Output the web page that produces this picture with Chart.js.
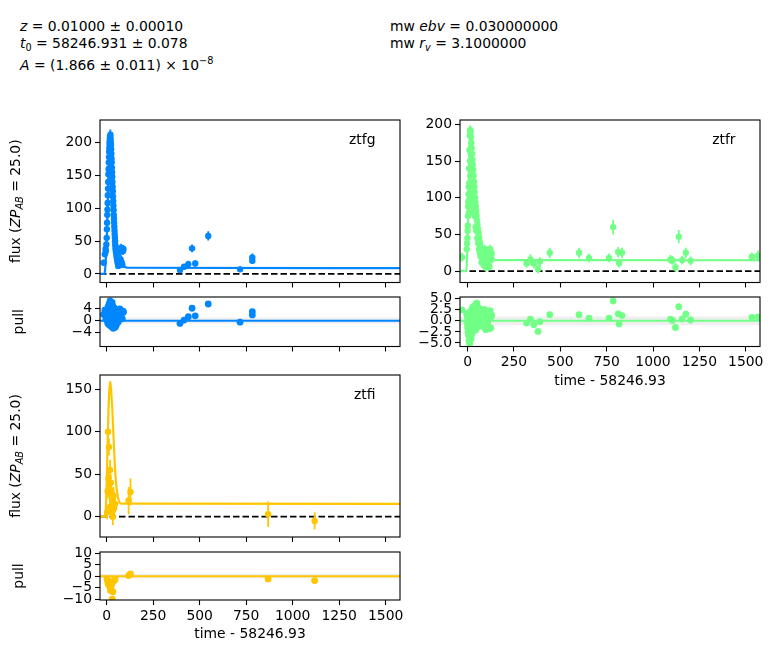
<!DOCTYPE html>
<html><head><meta charset="utf-8">
<script src="https://cdn.jsdelivr.net/npm/chart.js@4.4.1/dist/chart.umd.min.js"></script>
<style>
html,body{margin:0;padding:0;background:#fff;}
#wrap{position:relative;width:780px;height:670px;overflow:hidden;font-family:"DejaVu Sans";font-size:13.9px;color:#000;}
canvas{position:absolute;left:0;top:0;}
.hdr{position:absolute;white-space:nowrap;line-height:16px;}
.hdr sub{font-size:70%;vertical-align:-0.3em;line-height:0;}
.hdr sup{font-size:70%;vertical-align:0.6em;line-height:0;}
</style></head><body>
<div id="wrap">
<div class="hdr" style="left:20px;top:18px"><i>z</i> = 0.01000 ± 0.00010</div>
<div class="hdr" style="left:20px;top:35px"><i>t</i><sub>0</sub> = 58246.931 ± 0.078</div>
<div class="hdr" style="left:20px;top:57px"><i>A</i> = (1.866 ± 0.011) × 10<sup>−8</sup></div>
<div class="hdr" style="left:390px;top:18px">mw <i>ebv</i> = 0.030000000</div>
<div class="hdr" style="left:390px;top:35px">mw <i>r<sub>v</sub></i> = 3.1000000</div>
<canvas id="cGF" width="780" height="670"></canvas>
<canvas id="cGP" width="780" height="670"></canvas>
<canvas id="cRF" width="780" height="670"></canvas>
<canvas id="cRP" width="780" height="670"></canvas>
<canvas id="cIF" width="780" height="670"></canvas>
<canvas id="cIP" width="780" height="670"></canvas>
</div>
<script>
// ---------------- DATA ----------------
const xTicks = [0, 250, 500, 750, 1000, 1250, 1500];
const fluxTicksGR = [0, 50, 100, 150, 200];
const fluxTicksI = [0, 50, 100, 150];
const pullTicksG = [-4, 0, 4];
const pullTicksR = [-5, -2.5, 0, 2.5, 5];
const pullTicksI = [-10, -5, 0, 5, 10];
const pullBand = [-1, 1];

// ztfg
const gTime = [-16,-10,-6,-4,-2,0,1,2,3,4,5,6,7,8,9,10,11,12,13,14,15,16,17,18,19,20,21,22,23,24,25,26,27,28,29,30,31,32,33,34,35,36,37,38,39,40,41,42,43,44,45,46,47,48,50,52,54,56,58,60,62,65,68,70,72,75,78,80,84,88,90,394,416,439,459,476,546,717,783,783];
const gFlux = [17,30,38,35,45,55,68,78,90,98,108,120,130,140,152,160,170,178,186,192,198,202,206,210,208,212,205,200,196,190,183,176,170,162,155,148,140,133,126,118,111,104,97,90,84,78,72,66,60,55,50,45,41,37,33,29,25,22,19,16,12,26,20,34,15,22,40,18,14,35,38,6,11,15,39,16,58,7,25,20];
const gErr = [5,5,5,4,5,5,5,5,6,6,6,6,6,6,7,7,7,7,7,7,8,8,8,8,8,8,8,8,8,7,7,7,7,7,7,7,7,6,6,6,6,6,6,6,5,5,5,5,5,5,5,5,5,5,4,4,4,4,4,4,4,5,4,5,4,5,6,5,4,6,6,4,4,5,6,5,7,4,6,5];
const gPull = [2.0,3.5,2.5,0.5,1.5,0.8,2.2,1.0,3.0,0.5,-0.8,1.8,4.5,2.5,0.2,-1.2,3.2,1.2,5.5,2.8,0.6,-1.5,4.0,6.5,2.0,9.0,1.4,-0.5,3.5,5.0,2.2,-2.0,0.8,3.8,6.0,1.8,-1.0,2.6,4.8,0.3,-2.5,1.6,3.3,0.0,-1.8,2.4,4.2,1.0,-0.6,2.9,0.4,-2.2,1.7,3.6,0.9,-1.4,2.1,0.2,3.0,1.2,-0.4,2.6,1.5,3.9,0.7,1.9,3.4,2.3,0.6,3.1,2.8,-0.9,0.2,1.3,4.1,1.6,5.5,-0.5,3.0,1.9];
const gModelT = [-36,-12,-8,-4,0,4,8,12,16,20,24,28,32,36,40,45,50,55,60,70,80,90,100,110,1577];
const gModelF = [0,0,8,25,50,85,125,165,195,207,200,180,155,130,105,82,62,46,35,22,15,12,10.5,9.5,9];

// ztfr
const rTime = [-30,-5,-3,-1,0,1,2,3,4,5,6,7,8,9,10,11,12,13,14,15,16,17,18,19,20,21,22,23,24,25,26,27,28,29,30,31,32,34,35,36,38,39,40,42,43,44,46,47,48,50,52,53,56,57,59,61,62,65,66,68,70,72,75,76,80,82,85,88,90,92,95,98,100,103,105,108,110,112,115,118,120,122,125,128,130,318,339,357,380,390,443,601,655,763,785,812,817,833,1094,1105,1121,1139,1157,1177,1203,1533,1566];
const rFlux = [19,30,38,45,55,62,75,88,95,105,115,80,140,120,165,100,185,150,192,130,190,160,183,110,175,140,168,90,160,120,152,100,145,80,138,110,130,122,90,115,108,75,100,94,60,88,82,55,76,70,45,64,58,38,52,30,46,40,25,36,20,30,12,26,20,25,15,8,12,30,22,5,18,28,25,14,10,20,28,6,20,30,15,18,24,10.5,16,10,3,13,25,25,18,18,60,26,11,25,16,14.6,5,47,15,25,14,19.5,21];
const rErr = [6,5,5,5,5,5,6,6,6,6,6,6,6,6,7,6,7,7,7,7,7,7,7,6,7,6,7,6,7,6,6,6,6,6,6,6,6,6,6,6,6,5,6,6,5,6,5,5,5,5,5,5,5,5,5,5,5,5,5,5,5,5,5,5,5,5,5,5,5,6,6,5,5,6,6,5,5,6,6,5,6,6,5,6,6,6,7,6,6,6,7,7,6,6,10,7,6,7,6,6,6,9,6,7,6,6,7];
const rPull = [2.5,1.5,-0.5,0.8,-1.5,1.2,-2.5,0.5,-3.2,1.8,-1.0,-4.5,0.3,-2.0,1.5,-5.2,0.9,-3.8,-0.6,-6.5,1.1,-2.7,2.2,-4.1,0.4,-1.9,1.6,-3.0,2.8,-0.8,0.7,-2.3,3.1,-1.2,1.9,0.1,2.4,1.0,-1.6,3.4,0.6,-0.9,2.0,1.3,-2.1,2.7,0.2,3.9,1.4,4.0,-0.4,2.5,1.1,-1.3,3.0,0.5,1.8,-0.2,2.2,0.8,-1.0,1.6,-0.7,2.4,0.3,1.7,-0.5,-1.4,0.9,2.6,1.2,-2.0,0.5,2.2,1.5,-0.3,-0.9,1.0,2.1,-1.8,0.6,2.3,-1.6,1.0,1.3,-0.5,0.4,-0.9,-2.4,-0.2,1.4,1.4,0.6,0.6,4.5,1.6,-0.7,1.2,0.4,0.1,-1.5,3.2,0.4,1.5,0.2,0.8,0.9];
const rModelT = [-41,-8,-5,-2,2,6,10,14,18,22,26,30,35,40,45,50,55,60,70,80,90,100,110,120,1577];
const rModelF = [0,0,6,28,65,115,165,192,188,172,155,138,118,100,85,72,60,50,36,27,21,18,16,15,14.8];

// ztfi
const iTime = [2,5,7,9,12,15,18,20,22,25,28,30,33,36,40,45,118,128,868,1118];
const iFlux = [5,30,100,45,82,28,55,12,40,30,8,18,0,25,10,15,19,29,3,-5];
const iErr = [8,8,10,10,10,9,12,10,10,10,12,10,10,10,12,10,16,16,15,10];
const iPull = [-1.2,-2.0,-2.8,-3.5,-2.5,-4.2,-5.0,-6.2,-5.5,-4.0,-3.0,-10.0,-6.8,-2.2,-1.8,-1.5,0.3,1.0,-1.2,-1.9];
const iModelT = [-36,-7,-3,1,5,10,15,19,23,27,30,34,38,42,47,52,56,62,70,80,1577];
const iModelF = [0,0,18,49,88,128,152,159,152,138,128,108,88,68,49,36,29,21,16.5,15.5,15];

const bandColors = {ztfg: '#0087ff', ztfr: '#72ff86', ztfi: '#ffc600'};

// ---------------- RENDERING ----------------
const W = 780, H = 670;
const FAM = '"DejaVu Sans", sans-serif';
const FS = 13.9;
Chart.defaults.font.family = FAM;
Chart.defaults.font.size = FS;
Chart.defaults.color = '#000';

const fmtNum = v => (v < 0 ? '\u2212' + Math.abs(v) : String(v));
const fmtFix1 = v => (v < 0 ? '\u2212' + Math.abs(v).toFixed(1) : v.toFixed(1));

function pts(xs, ys) { return xs.map((x, i) => ({x: x, y: ys[i]})); }

function drawRich(ctx, segs, cx, cy, rotate) {
  ctx.save();
  ctx.translate(cx, cy);
  if (rotate) ctx.rotate(-Math.PI / 2);
  ctx.fillStyle = '#000';
  ctx.textAlign = 'left';
  ctx.textBaseline = 'alphabetic';
  const fontOf = s => (s.it ? 'italic ' : '') + (s.sub ? FS * 0.7 : FS) + 'px ' + FAM;
  let total = 0;
  const ws = segs.map(s => { ctx.font = fontOf(s); const w = ctx.measureText(s.t).width; total += w; return w; });
  let x = -total / 2;
  segs.forEach((s, i) => {
    ctx.font = fontOf(s);
    ctx.fillText(s.t, x, FS * 0.36 + (s.sub ? FS * 0.2 : 0));
    x += ws[i];
  });
  ctx.restore();
}

const errPlugin = {
  id: 'errbars',
  beforeDatasetDraw(chart, args) {
    const ds = chart.data.datasets[args.index];
    if (!ds.errors) return;
    const ctx = chart.ctx, a = chart.chartArea;
    const xs = chart.scales.x, ys = chart.scales.y;
    ctx.save();
    ctx.beginPath(); ctx.rect(a.left, a.top, a.right - a.left, a.bottom - a.top); ctx.clip();
    ctx.strokeStyle = ds.pointBackgroundColor;
    ctx.lineWidth = 1.8;
    ds.data.forEach((p, i) => {
      const px = xs.getPixelForValue(p.x);
      ctx.beginPath();
      ctx.moveTo(px, ys.getPixelForValue(p.y - ds.errors[i]));
      ctx.lineTo(px, ys.getPixelForValue(p.y + ds.errors[i]));
      ctx.stroke();
    });
    ctx.restore();
  }
};

function makeAnnot(cfg) {
  return {
    id: 'annot',
    beforeDatasetsDraw(chart) {
      if (!cfg.band) return;
      const ctx = chart.ctx, a = chart.chartArea, ys = chart.scales.y;
      const y1 = ys.getPixelForValue(pullBand[1]), y0 = ys.getPixelForValue(pullBand[0]);
      ctx.save();
      ctx.fillStyle = '#efefef';
      ctx.fillRect(a.left, y1, a.right - a.left, y0 - y1);
      ctx.restore();
    },
    afterDraw(chart) {
      const ctx = chart.ctx, a = chart.chartArea;
      ctx.save();
      ctx.strokeStyle = '#000';
      ctx.lineWidth = 1.1;
      ctx.strokeRect(a.left, a.top, a.right - a.left, a.bottom - a.top);
      ctx.restore();
      if (cfg.label) {
        ctx.save();
        ctx.font = FS + 'px ' + FAM;
        ctx.fillStyle = '#000';
        ctx.textAlign = 'right';
        ctx.textBaseline = 'middle';
        ctx.fillText(cfg.label, a.right - 24.5, a.top + 20);
        ctx.restore();
      }
      if (cfg.yTitle) drawRich(ctx, cfg.yTitle, cfg.yTitleX, (a.top + a.bottom) / 2, true);
      if (cfg.xTitle) {
        ctx.save();
        ctx.font = FS + 'px ' + FAM;
        ctx.fillStyle = '#000';
        ctx.textAlign = 'center';
        ctx.textBaseline = 'middle';
        ctx.fillText(cfg.xTitle, (a.left + a.right) / 2, a.bottom + 34.5);
        ctx.restore();
      }
    }
  };
}

function axisCommon(tickVals, fmt, showLabels) {
  return {
    type: 'linear',
    afterBuildTicks: s => { s.ticks = tickVals.map(v => ({value: v})); },
    grid: {display: true, drawOnChartArea: false, drawTicks: true, tickLength: 5, tickWidth: 1.1, tickColor: '#000', color: '#000'},
    border: {display: false},
    ticks: {display: showLabels, autoSkip: false, maxRotation: 0, minRotation: 0, padding: 3, color: '#000',
            font: {family: FAM, size: FS}, callback: v => fmt(v)}
  };
}

function makePanel(id, cfg) {
  const f = cfg.frame;
  const xAx = Object.assign(axisCommon(xTicks, fmtNum, cfg.showX), {
    position: 'bottom', min: cfg.xr[0], max: cfg.xr[1],
    afterFit: s => { s.height = H - f.b; }
  });
  const yAx = Object.assign(axisCommon(cfg.yTicks, cfg.yFmt || fmtNum, true), {
    position: 'left', min: cfg.yr[0], max: cfg.yr[1],
    afterFit: s => { s.width = f.l; }
  });
  new Chart(document.getElementById(id), {
    type: 'scatter',
    data: {datasets: cfg.datasets},
    options: {
      responsive: false, animation: false, events: [],
      layout: {padding: {left: 0, top: f.t, right: W - f.r, bottom: 0}},
      plugins: {legend: {display: false}, tooltip: {enabled: false}},
      scales: {x: xAx, y: yAx}
    },
    plugins: [errPlugin, makeAnnot(cfg)]
  });
}

function fluxSets(col, t, fl, er, mt, mf, xr) {
  return [
    {data: pts(t, fl), errors: er, showLine: false, pointRadius: 3.2, pointBackgroundColor: col,
     pointBorderColor: col, pointBorderWidth: 0, clip: 0, order: 1},
    {data: pts(mt, mf), showLine: true, borderColor: col, borderWidth: 2.2, pointRadius: 0,
     cubicInterpolationMode: 'monotone', clip: 0, order: 2},
    {data: pts(xr, xr.map(() => 0)), showLine: true, borderColor: '#000', borderWidth: 1.8,
     borderDash: [6.5, 3], pointRadius: 0, clip: 0, order: 3}
  ];
}
function pullSets(col, t, p, xr) {
  return [
    {data: pts(t, p), showLine: false, pointRadius: 3.4, pointBackgroundColor: col,
     pointBorderColor: col, pointBorderWidth: 0, clip: 0, order: 1},
    {data: pts(xr, xr.map(() => 0)), showLine: true, borderColor: col, borderWidth: 2, pointRadius: 0, clip: 0, order: 2}
  ];
}

const xrG = [-36, 1577], xrR = [-41, 1577];
const fluxTitle = [{t: 'flux ('}, {t: 'ZP', it: true}, {t: 'AB', it: true, sub: true}, {t: ' = 25.0)'}];
const pullTitle = [{t: 'pull'}];
const timeTitle = 'time - 58246.93';

makePanel('cGF', {frame: {l: 100, r: 400, t: 120, b: 282.5}, xr: xrG, yr: [-13, 234.5], yTicks: fluxTicksGR, showX: false,
  label: 'ztfg', yTitle: fluxTitle, yTitleX: 15,
  datasets: fluxSets(bandColors.ztfg, gTime, gFlux, gErr, gModelT, gModelF, xrG)});
makePanel('cGP', {frame: {l: 100, r: 400, t: 297, b: 346.5}, xr: xrG, yr: [-8.5, 7.8], yTicks: pullTicksG, showX: false,
  band: true, yTitle: pullTitle, yTitleX: 18,
  datasets: pullSets(bandColors.ztfg, gTime, gPull, xrG)});
makePanel('cRF', {frame: {l: 460, r: 760, t: 120, b: 282.5}, xr: xrR, yr: [-15.5, 206], yTicks: fluxTicksGR, showX: false,
  label: 'ztfr',
  datasets: fluxSets(bandColors.ztfr, rTime, rFlux, rErr, rModelT, rModelF, xrR)});
makePanel('cRP', {frame: {l: 460, r: 760, t: 297, b: 346.5}, xr: xrR, yr: [-5.8, 5.4], yTicks: pullTicksR, yFmt: fmtFix1, showX: true,
  band: true, xTitle: timeTitle,
  datasets: pullSets(bandColors.ztfr, rTime, rPull, xrR)});
makePanel('cIF', {frame: {l: 100, r: 400, t: 375, b: 537}, xr: xrG, yr: [-23.9, 166.8], yTicks: fluxTicksI, showX: false,
  label: 'ztfi', yTitle: fluxTitle, yTitleX: 15,
  datasets: fluxSets(bandColors.ztfi, iTime, iFlux, iErr, iModelT, iModelF, xrG)});
makePanel('cIP', {frame: {l: 100, r: 400, t: 552, b: 600}, xr: xrG, yr: [-10.4, 10.6], yTicks: pullTicksI, showX: true,
  band: true, yTitle: pullTitle, yTitleX: 18, xTitle: timeTitle,
  datasets: pullSets(bandColors.ztfi, iTime, iPull, xrG)});
</script>
</body></html>
